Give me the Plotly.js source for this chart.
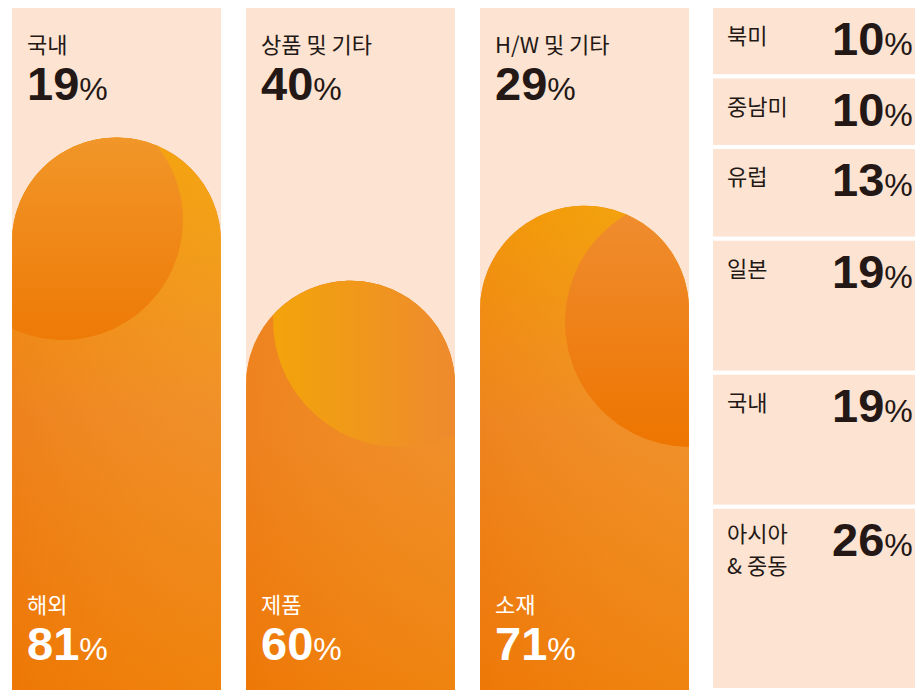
<!DOCTYPE html>
<html><head><meta charset="utf-8">
<script src="https://cdn.plot.ly/plotly-3.0.1.min.js"></script>
<style>html,body{margin:0;padding:0;background:#fff;}#chart{width:915px;height:690px;}</style>
</head><body><div id="chart"></div>
<script>
// ---- data ----
const topLabels = ['국내', '상품 및 기타', 'H/W 및 기타'];
const topValues = [19, 40, 29];
const bottomLabels = ['해외', '제품', '소재'];
const bottomValues = [81, 60, 71];
const regionLabels = ['북미', '중남미', '유럽', '일본', '국내', '아시아<br>& 중동'];
const regionValues = [10, 10, 13, 19, 19, 26];

// ---- geometry (pixels) ----
const W = 915, H = 690, PANEL_TOP = 8;
const colLeft = [12, 246, 480];
const colW = 209;
const regionLeft = 711, regionW = 213;
const PX = (H - PANEL_TOP) / 100;          // px per percent
const yMax = H / PX;
const toY = py => (H - py) / PX;
const regionTotal = regionValues.reduce((a, b) => a + b, 0);
const PX2 = (H - 6) / regionTotal;
const y2Max = H / PX2;

const peach = '#fde3d1';
const dark = '#231815';
const centers = colLeft.map(l => l + colW / 2);

// stadium (bar outline) in pixel space
function stadiumPts(i, v) {
  const x0 = colLeft[i], x1 = x0 + colW, R = colW / 2, cx = x0 + R;
  const yc = H - v * PX + R;
  const pts = [];
  pts.push([x0, H]);
  for (let k = 0; k <= 90; k++) {
    const a = Math.PI - Math.PI * k / 90;
    pts.push([cx + R * Math.cos(a), yc - R * Math.sin(a)]);
  }
  pts.push([x1, H]);
  return pts;
}
function insideStadium(i, v, x, y) {
  const x0 = colLeft[i], x1 = x0 + colW, R = colW / 2, cx = x0 + R;
  const yc = H - v * PX + R;
  if (x < x0 - 0.01 || x > x1 + 0.01 || y > H + 0.01) return false;
  if (y >= yc) return true;
  return (x - cx) * (x - cx) + (y - yc) * (y - yc) <= R * R + 0.5;
}
function stadiumTrace(i, v, grad) {
  const p = stadiumPts(i, v);
  return {
    type: 'scatter', mode: 'lines', x: p.map(q => q[0]), y: p.map(q => toY(q[1])), yaxis: 'y3',
    fill: 'toself', line: {width: 0}, fillcolor: grad.colorscale[0][1],
    fillgradient: grad, hoverinfo: 'skip', showlegend: false
  };
}
function circleClipTrace(i, v, ccx, ccy, r, grad) {
  const x0 = colLeft[i], x1 = x0 + colW, R = colW / 2;
  const yc = H - v * PX + R;
  const pts = [];
  for (let k = 0; k < 720; k++) {
    const a = 2 * Math.PI * k / 720;
    const x = ccx + r * Math.cos(a), y = ccy + r * Math.sin(a);
    if (insideStadium(i, v, x, y)) pts.push([x, y]);
  }
  const inC = (x, y) => (x - ccx) * (x - ccx) + (y - ccy) * (y - ccy) <= r * r;
  stadiumPts(i, v).forEach(q => { if (inC(q[0], q[1])) pts.push(q); });
  for (let y = yc; y <= H; y += 1) {
    if (inC(x0, y)) pts.push([x0, y]);
    if (inC(x1, y)) pts.push([x1, y]);
  }
  for (let x = x0; x <= x1; x += 1) if (inC(x, H)) pts.push([x, H]);
  const mx = pts.reduce((s, q) => s + q[0], 0) / pts.length;
  const my = pts.reduce((s, q) => s + q[1], 0) / pts.length;
  pts.sort((a, b) => Math.atan2(a[1] - my, a[0] - mx) - Math.atan2(b[1] - my, b[0] - mx));
  pts.push(pts[0]);
  return {
    type: 'scatter', mode: 'lines', x: pts.map(q => q[0]), y: pts.map(q => toY(q[1])), yaxis: 'y3',
    fill: 'toself', line: {width: 0}, fillcolor: grad.colorscale[0][1],
    fillgradient: grad, hoverinfo: 'skip', showlegend: false
  };
}

const traces = [];
// peach panels = whole (top + bottom share), on the base subplot
traces.push({
  type: 'bar', x: centers, y: topValues.map((t, i) => t + bottomValues[i]), width: colW,
  marker: {color: peach, cornerradius: 0, line: {width: 0}}, hoverinfo: 'skip'
});
// orange bars (bottom share) with round top, on their own overlaying subplot
traces.push({
  type: 'bar', x: centers, y: bottomValues, width: colW, yaxis: 'y3',
  marker: {color: '#ef8a24', cornerradius: '50%', line: {width: 0}}, hoverinfo: 'skip'
});
// gradient bodies
const baseGrads = [
  [[0, '#ee7a06'], [0.5, '#ef8a2a'], [1, '#f4a60c']],
  [[0, '#ee7b0a'], [0.6, '#ef892a'], [1, '#ef8c2c']],
  [[0, '#ee7b0a'], [0.55, '#ef8c2c'], [1, '#f4a50a']]
];
bottomValues.forEach((v, i) => {
  traces.push(stadiumTrace(i, v, {type: 'vertical', start: 0, stop: v, colorscale: baseGrads[i]}));
});
// diagonal feel: horizontal tint over each bar
bottomValues.forEach((v, i) => {
  traces.push(stadiumTrace(i, v, {type: 'horizontal', start: colLeft[i], stop: colLeft[i] + colW,
    colorscale: [[0, 'rgba(236,112,0,0.3)'], [1, 'rgba(246,170,40,0.18)']]}));
});
// decorative circles clipped to the bars
traces.push(circleClipTrace(0, bottomValues[0], 63, 220, 120,
  {type: 'vertical', start: toY(340), stop: toY(137), colorscale: [[0, '#ee7a06'], [1, '#f19629']]}));
traces.push(circleClipTrace(1, bottomValues[1], 400, 320, 127,
  {type: 'horizontal', start: 273, stop: 455, colorscale: [[0, '#f3a40a'], [1, '#ee8a2e']]}));
traces.push(circleClipTrace(2, bottomValues[2], 690, 322, 125,
  {type: 'vertical', start: toY(447), stop: toY(207), colorscale: [[0, '#ee7500'], [1, '#ef8d30']]}));

// region cells (stacked from bottom: last label at bottom)
const bases = [];
let acc = 0;
for (let k = regionValues.length - 1; k >= 0; k--) { bases[k] = acc; acc += regionValues[k]; }
traces.push({
  type: 'bar', x: regionValues.map(() => regionLeft + regionW / 2), y: regionValues, base: bases,
  width: regionW, yaxis: 'y2',
  marker: {color: peach, cornerradius: 0, line: {color: '#ffffff', width: 4}}, hoverinfo: 'skip'
});

// ---- text ----
const annotations = [];
const numFont = {family: 'Liberation Sans, Arial, sans-serif', size: 47};
const lblFont = {family: 'Noto Sans CJK KR, sans-serif', size: 22};
const numText = v => `<b>${v}</b><span style="font-size:32px;font-weight:400">%</span>`;
function ann(text, xpx, ypx, font, color, xanchor) {
  annotations.push({
    text: text, xref: 'paper', yref: 'paper', x: xpx / W, y: 1 - ypx / H,
    xanchor: xanchor || 'left', yanchor: 'top', showarrow: false, align: 'left',
    font: Object.assign({}, font, {color: color})
  });
}
colLeft.forEach((l, i) => {
  ann(topLabels[i], l + 13, 25, lblFont, dark);
  ann(numText(topValues[i]), l + 13, 55, numFont, dark);
  ann(bottomLabels[i], l + 13, 585, lblFont, '#ffffff');
  ann(numText(bottomValues[i]), l + 13, 615, numFont, '#ffffff');
});
regionValues.forEach((v, k) => {
  const topPx = H - (bases[k] + v) * PX2 + 2;
  const lines = regionLabels[k].split('<br>');
  const first = lines.length > 1 ? 5 : 8;
  lines.forEach((ln, j) => ann(ln, 725, topPx + first + j * 32, lblFont, dark));
  ann(numText(v), 915, topPx + 2, numFont, dark, 'right');
});

const hidden = {visible: false, fixedrange: true};
const layout = {
  width: W, height: H, margin: {l: 0, r: 0, t: 0, b: 0, pad: 0},
  paper_bgcolor: '#ffffff', plot_bgcolor: '#ffffff',
  barmode: 'overlay', showlegend: false, hovermode: false,
  xaxis: Object.assign({range: [0, W]}, hidden),
  yaxis: Object.assign({range: [0, yMax]}, hidden),
  yaxis2: Object.assign({range: [0, y2Max], overlaying: 'y'}, hidden),
  yaxis3: Object.assign({range: [0, yMax], overlaying: 'y'}, hidden),
  annotations: annotations
};
Plotly.newPlot('chart', traces, layout, {displayModeBar: false, staticPlot: true});
</script></body></html>
